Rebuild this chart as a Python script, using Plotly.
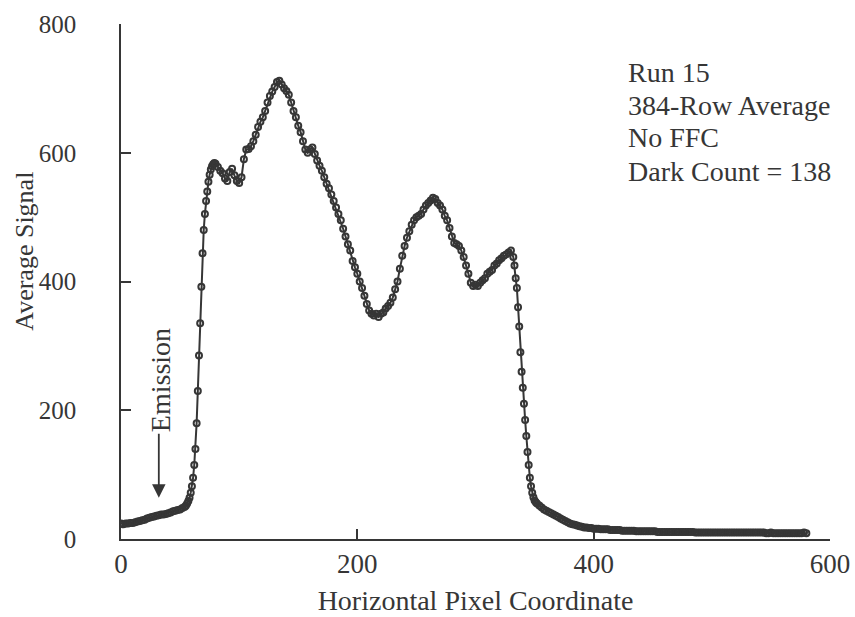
import plotly.graph_objects as go

# ---- data ----
pixel_a = list(range(0, 55, 2))
signal_a = [24, 23, 24, 24, 25, 25, 26, 27, 28, 29, 30, 32, 33, 34, 35, 36, 37, 38,
            38, 39, 40, 41, 43, 44, 45, 46, 48, 50]

pixel_b = list(range(55, 81))
signal_b = [52, 55, 59, 64, 72, 82, 95, 115, 140, 180, 230, 285, 335, 392, 444, 480,
            505, 525, 540, 555, 566, 574, 579, 582, 584, 583]

pixel_c = list(range(82, 333, 2))
signal_c = [578, 572, 568, 560, 556, 570, 575, 565, 556, 553, 562, 590, 605, 606, 610,
            618, 628, 640, 648, 655, 665, 678, 688, 695, 702, 710, 712, 706, 700, 696,
            690, 678, 665, 655, 642, 632, 618, 605, 600, 605, 608, 598, 588, 580, 572,
            562, 552, 545, 535, 525, 515, 505, 495, 482, 470, 458, 448, 432, 422, 412,
            400, 390, 378, 365, 355, 350, 347, 350, 345, 350, 352, 358, 362, 367, 375,
            388, 400, 420, 440, 455, 468, 478, 488, 495, 500, 502, 505, 512, 518, 522,
            526, 530, 528, 522, 518, 512, 502, 495, 483, 470, 460, 458, 455, 448, 438,
            425, 412, 398, 393, 395, 393, 398, 402, 405, 412, 415, 418, 425, 428, 433,
            436, 440, 442, 445, 448, 438]

pixel_d = list(range(333, 353))
signal_d = [425, 405, 390, 360, 330, 290, 260, 235, 210, 185, 160, 135, 115, 95, 82,
            72, 65, 60, 57, 55]

pixel_e = list(range(354, 401, 2))
signal_e = [52, 49, 46, 44, 42, 40, 38, 36, 34, 32, 30, 28, 26, 24, 23, 22, 21, 20,
            19, 18, 18, 17, 17, 16]

pixel_f = list(range(402, 581, 2))
signal_f = [16, 16, 15, 15, 15, 15, 14, 14, 14, 14,
            14, 13, 13, 13, 13, 13, 13, 12, 12, 12,
            12, 12, 12, 12, 12, 12, 11, 11, 11, 11,
            11, 11, 11, 11, 11, 11, 11, 11, 11, 11,
            11, 11, 10, 10, 10, 10, 10, 10, 10, 10,
            10, 10, 10, 10, 10, 10, 10, 10, 10, 10,
            10, 10, 10, 10, 10, 10, 10, 10, 10, 10,
            10, 10, 9, 9, 10, 9, 9, 9, 9, 9,
            9, 9, 9, 9, 9, 9, 9, 9, 10, 9]

pixels = pixel_a + pixel_b + pixel_c + pixel_d + pixel_e + pixel_f
signals = signal_a + signal_b + signal_c + signal_d + signal_e + signal_f

x_ticks = [0, 200, 400, 600]
y_ticks = [0, 200, 400, 600, 800]
info_lines = ["Run 15", "384-Row Average", "No FFC", "Dark Count = 138"]
info_y = [725, 674, 623, 571]

FONT = "Liberation Serif, Times New Roman, serif"
INK = "#363636"
FS = 28

fig = go.Figure()
fig.add_trace(go.Scatter(
    x=pixels, y=signals, mode="lines+markers",
    line=dict(color=INK, width=2),
    marker=dict(symbol="circle-open", size=6, color=INK, line=dict(width=2, color=INK)),
    showlegend=False, hoverinfo="skip",
))

for txt, yy in zip(info_lines, info_y):
    fig.add_annotation(x=427, y=yy, xref="x", yref="y", text=txt, showarrow=False,
                       xanchor="left", yanchor="middle",
                       font=dict(family=FONT, size=FS, color=INK))

# Emission arrow + label
fig.add_annotation(x=32, y=64, ax=32, ay=166, xref="x", yref="y", axref="x", ayref="y",
                   text="", showarrow=True, arrowhead=2, arrowsize=1.5, arrowwidth=1.8,
                   arrowcolor=INK)
fig.add_annotation(x=34, y=247, xref="x", yref="y", text="Emission", showarrow=False,
                   textangle=-90, font=dict(family=FONT, size=FS, color=INK))

# y-axis title placed as rotated text
fig.add_annotation(x=-0.136, y=0.559, xref="paper", yref="paper", text="Average Signal",
                   showarrow=False, textangle=-90, xanchor="center", yanchor="middle",
                   font=dict(family=FONT, size=26, color=INK))

fig.update_layout(
    width=855, height=617,
    margin=dict(l=121, r=25, t=24, b=78),
    paper_bgcolor="white", plot_bgcolor="white",
    font=dict(family=FONT, size=FS, color=INK),
)
fig.update_xaxes(
    range=[0, 600], tickvals=x_ticks, ticks="inside", ticklen=10, tickwidth=1.5,
    tickcolor=INK, showline=True, linecolor=INK, linewidth=1.5, showgrid=False,
    zeroline=False, automargin=False, tickfont=dict(family=FONT, size=27, color=INK),
    title=dict(text="Horizontal Pixel Coordinate", standoff=12,
               font=dict(family=FONT, size=FS, color=INK)),
)
fig.update_yaxes(
    range=[0, 800], tickvals=y_ticks, ticks="inside", ticklen=10, tickwidth=1.5,
    tickcolor=INK, showline=True, linecolor=INK, linewidth=1.5, showgrid=False,
    zeroline=False, automargin=False, tickfont=dict(family=FONT, size=25, color=INK),
    ticklabelstandoff=38,
)

fig.write_html("out.html", config={"displayModeBar": False},
               post_script="document.body.style.margin='0';")
